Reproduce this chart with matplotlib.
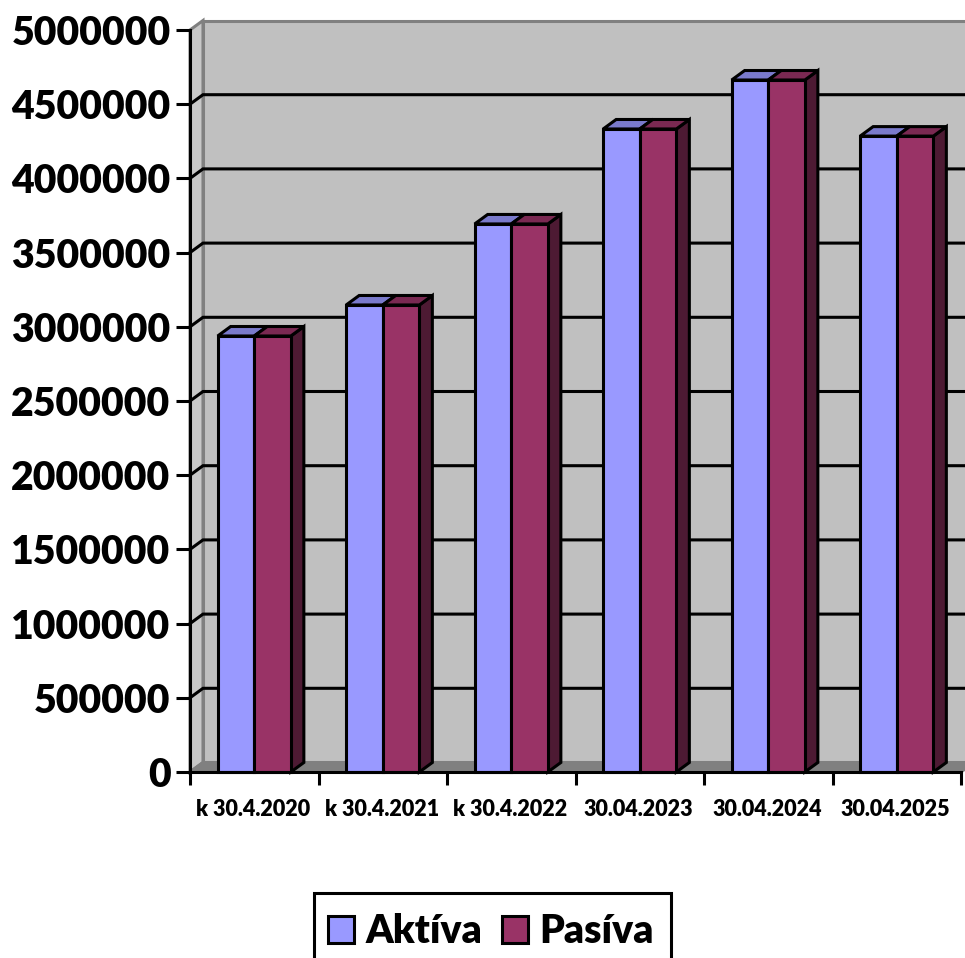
import matplotlib
matplotlib.use("Agg")
import matplotlib.pyplot as plt
from matplotlib.patches import Polygon, Rectangle

# values
dates = ["k 30.4.2020", "k 30.4.2021", "k 30.4.2022", "30.04.2023", "30.04.2024", "30.04.2025"]
aktiva = [2938000, 3147000, 3693000, 4333000, 4663000, 4285000]
pasiva = [2938000, 3147000, 3693000, 4333000, 4663000, 4285000]
yticks = list(range(0, 5000001, 500000))

plt.rcParams["font.family"] = ["Lato", "DejaVu Sans"]
plt.rcParams["font.weight"] = "bold"

W, H = 965, 958
fig = plt.figure(figsize=(W / 100, H / 100), dpi=100)
ax = fig.add_axes([190 / W, (H - 772) / H, 771 / W, 742 / H])
ax.set_xlim(0, 6)
ax.set_ylim(0, 5000000)

# 3d depth in data units (13 px right, 10 px up)
dx = 13 / 128.5
dy = 9.5 / 742 * 5000000
lw = 2.2
gray = "#808080"


def poly(pts, color, edge=None, z=2, width=lw):
    p = Polygon(pts, closed=True, facecolor=color, edgecolor=edge if edge else color,
                linewidth=width, zorder=z, clip_on=False, joinstyle="miter")
    ax.add_patch(p)


# walls and floor
poly([(dx, dy), (6 + dx, dy), (6 + dx, 5000000 + dy), (dx, 5000000 + dy)], "#C0C0C0", gray, 1)
poly([(0, 0), (dx, dy), (dx, 5000000 + dy), (0, 5000000)], "#C8C8C8", gray, 1)
poly([(0, 0), (6, 0), (6 + dx, dy), (dx, dy)], gray, gray, 1)

# gridlines on the back wall and the left wall
for v in yticks[1:-1]:
    ax.plot([0, dx, 6 + dx], [v, v + dy, v + dy], color="black", lw=lw, zorder=1.5,
            clip_on=False, solid_joinstyle="miter")

bar_w = 36.6 / 128.5
for i in range(len(dates)):
    x0 = i + 0.5 - bar_w
    x1 = i + 0.5
    x2 = i + 0.5 + bar_w
    z = 3 + i
    poly([(x2, 0), (x2 + dx, dy), (x2 + dx, pasiva[i] + dy), (x2, pasiva[i])], "#4D1A33", "black", z)
    poly([(x0, aktiva[i]), (x1, aktiva[i]), (x1 + dx, aktiva[i] + dy), (x0 + dx, aktiva[i] + dy)],
         "#7A7ACC", "black", z)
    poly([(x1, pasiva[i]), (x2, pasiva[i]), (x2 + dx, pasiva[i] + dy), (x1 + dx, pasiva[i] + dy)],
         "#7A2952", "black", z)

b1 = ax.bar([i + 0.5 - bar_w / 2 for i in range(6)], aktiva, bar_w, color="#9999FF",
            edgecolor="black", linewidth=lw, zorder=10, label="Aktíva", clip_on=False)
b2 = ax.bar([i + 0.5 + bar_w / 2 for i in range(6)], pasiva, bar_w, color="#993366",
            edgecolor="black", linewidth=lw, zorder=10, label="Pasíva", clip_on=False)

# axes
for s in ["top", "right"]:
    ax.spines[s].set_visible(False)
for s in ["left", "bottom"]:
    ax.spines[s].set_linewidth(lw)
    ax.spines[s].set_zorder(20)
ax.set_yticks(yticks)
ax.set_yticklabels([str(v) for v in yticks], fontsize=28.3, fontweight="heavy")
ax.tick_params(axis="y", length=10, width=lw, pad=4)
ax.set_xticks(range(7))
ax.set_xticklabels([""] * 7)
ax.tick_params(axis="x", length=9.5, width=lw)
for i, d in enumerate(dates):
    ax.annotate(d, (i + 0.5, 0), xytext=(-1, -37), textcoords="offset pixels", ha="center",
                va="center", fontsize=15.5, fontweight="heavy", annotation_clip=False)

# legend frame runs past the bottom of the picture, so it is drawn on its own
fig.add_artist(Rectangle((314 / W, -10 / H), 357 / W, (H - 893 + 10) / H, transform=fig.transFigure,
                         facecolor="white", edgecolor="black", linewidth=lw))
leg = fig.legend(handles=[b1, b2], labels=["Aktíva", "Pasíva"], loc="upper left",
                 bbox_to_anchor=(327.5 / W, 1 - 913 / H), borderaxespad=0, ncol=2,
                 prop={"size": 28.2, "weight": "heavy"}, handlelength=0.68, handleheight=0.68,
                 handletextpad=0.28, columnspacing=0.5, borderpad=0, frameon=False)

fig.savefig("out.png", dpi=100)
